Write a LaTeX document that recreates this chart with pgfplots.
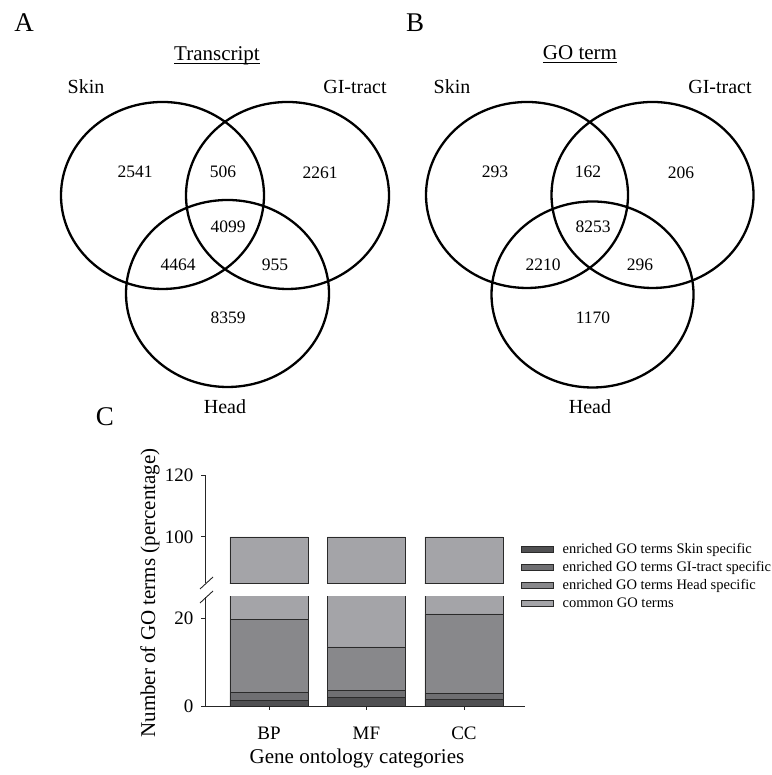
\documentclass[border=0pt]{standalone}
\usepackage{pgfplots}
\pgfplotsset{compat=1.18}
\usepackage{fontspec}
\setmainfont{Liberation Serif}
\definecolor{cSkin}{HTML}{505052}
\definecolor{cGI}{HTML}{6F6F72}
\definecolor{cHead}{HTML}{88888B}
\definecolor{cCommon}{HTML}{A4A4A8}
\definecolor{edge}{HTML}{2A2A2A}
\pgfplotsset{
  legimg/.style={legend image code/.code={\draw[##1,line width=0.7bp] (0bp,-3bp) rectangle (32bp,3bp); \path[draw=none,fill=none] (0bp,0bp) -- (39bp,0bp);}},
  sk/.style={fill=cSkin, draw=edge, line width=0.7bp, legimg},
  gi/.style={fill=cGI, draw=edge, line width=0.7bp, legimg},
  hd/.style={fill=cHead, draw=edge, line width=0.7bp, legimg},
  cm/.style={fill=cCommon, draw=edge, line width=0.7bp, legimg},
  barbase/.style={scale only axis, width=320bp, xmin=-0.656, xmax=2.626,
    ybar stacked, bar width=0.8, axis y line*=left, tick align=outside,
    axis line style={-, line width=0.9bp, color=black!85},
    tick style={line width=0.9bp, color=black!85}, major tick length=4bp,
    ticklabel style={font=\fontsize{19bp}{22bp}\selectfont},
    yticklabel style={xshift=-4bp},
    /pgf/number format/assume math mode=true},
}
\begin{document}
\begin{tikzpicture}[x=1bp,y=1bp]
\useasboundingbox (0,0) rectangle (772,775);
\begin{axis}[at={(0bp,0bp)}, anchor=south west, scale only axis, width=772bp, height=775bp,
  xmin=0, xmax=772, ymin=0, ymax=775, hide axis, clip=false]
% Venn A
\draw[line width=2.3bp] (axis cs:162.5,579.5) ellipse [x radius=101.5, y radius=93.5];
\draw[line width=2.3bp] (axis cs:287.5,579.5) ellipse [x radius=101.5, y radius=93.5];
\draw[line width=2.3bp] (axis cs:227.5,481.5) ellipse [x radius=101.5, y radius=93.5];
% Venn B
\draw[line width=2.3bp] (axis cs:527,580) ellipse [x radius=101, y radius=93];
\draw[line width=2.3bp] (axis cs:652.5,580) ellipse [x radius=101, y radius=93];
\draw[line width=2.3bp] (axis cs:592.5,480.5) ellipse [x radius=101, y radius=93];
% panel letters
\node[font=\fontsize{27bp}{31bp}\selectfont] at (axis cs:24,752.5) {A};
\node[font=\fontsize{27bp}{31bp}\selectfont] at (axis cs:415,752) {B};
\node[font=\fontsize{27bp}{31bp}\selectfont] at (axis cs:105,358) {C};
% titles
\node[anchor=base, inner sep=0pt, font=\fontsize{21bp}{25bp}\selectfont] (T1) at (axis cs:217,714) {Transcript};
\draw[line width=1bp] ([yshift=-2.5bp]T1.base west) -- ([yshift=-2.5bp]T1.base east);
\node[anchor=base, inner sep=0pt, font=\fontsize{21bp}{25bp}\selectfont] (T2) at (axis cs:580,715) {GO term};
\draw[line width=1bp] ([yshift=-2.5bp]T2.base west) -- ([yshift=-2.5bp]T2.base east);
% set labels
\begin{scope}[every node/.style={font=\fontsize{20bp}{24bp}\selectfont}]
\node at (axis cs:86,688) {Skin};
\node at (axis cs:355,688) {GI-tract};
\node at (axis cs:225,368) {Head};
\node at (axis cs:452,688) {Skin};
\node at (axis cs:720,688) {GI-tract};
\node at (axis cs:590,368) {Head};
\end{scope}
% counts
\begin{scope}[every node/.style={font=\fontsize{17.5bp}{21bp}\selectfont}]
\node at (axis cs:135,603) {2541};
\node at (axis cs:223,603) {506};
\node at (axis cs:320,602) {2261};
\node at (axis cs:228,548) {4099};
\node at (axis cs:178,510) {4464};
\node at (axis cs:275,510) {955};
\node at (axis cs:228,457) {8359};
\node at (axis cs:495,603) {293};
\node at (axis cs:588,603) {162};
\node at (axis cs:681,602) {206};
\node at (axis cs:593,548) {8253};
\node at (axis cs:543,510) {2210};
\node at (axis cs:640,510) {296};
\node at (axis cs:593,457) {1170};
\end{scope}
% axis labels of C
\node[rotate=90, font=\fontsize{21bp}{25bp}\selectfont] at (axis cs:150,182) {Number of GO terms (percentage)};
\node[font=\fontsize{21bp}{25bp}\selectfont] at (axis cs:357,17) {Gene ontology categories};
% break marks
\draw[line width=0.9bp, color=black!85] (axis cs:200,186) -- (axis cs:213,198);
\draw[line width=0.9bp, color=black!85] (axis cs:200,172) -- (axis cs:213,184);
\end{axis}
% lower panel
\begin{axis}[barbase, at={(205bp,69bp)}, anchor=south west, height=109.3bp,
  ymin=0, ymax=25, axis x line*=bottom, xtick={0,1,2}, xticklabels={BP,MF,CC},
  ytick={0,20}, xticklabel style={yshift=-13bp, text height=13bp, text depth=0bp},
  legend style={at={(0.9875,1.51)}, anchor=north west, draw=none, fill=none,
    inner sep=0pt, font=\fontsize{14.5bp}{16bp}\selectfont, row sep=1bp,
    nodes={inner sep=2bp, text height=10bp, text depth=3bp}},
  legend cell align=left]
\addplot[sk] coordinates {(0,1.3) (1,1.9) (2,1.45)};
\addplot[gi] coordinates {(0,1.75) (1,1.6) (2,1.35)};
\addplot[hd] coordinates {(0,16.7) (1,10.0) (2,18.27)};
\addplot[cm] coordinates {(0,80.25) (1,86.5) (2,78.93)};
\legend{enriched GO terms Skin specific, enriched GO terms GI-tract specific, enriched GO terms Head specific, common GO terms}
\end{axis}
% upper panel
\begin{axis}[barbase, at={(205bp,191.7bp)}, anchor=south west, height=108.3bp,
  ymin=85, ymax=120, axis x line=none, ytick={100,120}]
\addplot[sk] coordinates {(0,1.3) (1,1.9) (2,1.45)};
\addplot[gi] coordinates {(0,1.75) (1,1.6) (2,1.35)};
\addplot[hd] coordinates {(0,16.7) (1,10.0) (2,18.27)};
\addplot[cm] coordinates {(0,80.25) (1,86.5) (2,78.93)};
\end{axis}
\end{tikzpicture}
\end{document}
